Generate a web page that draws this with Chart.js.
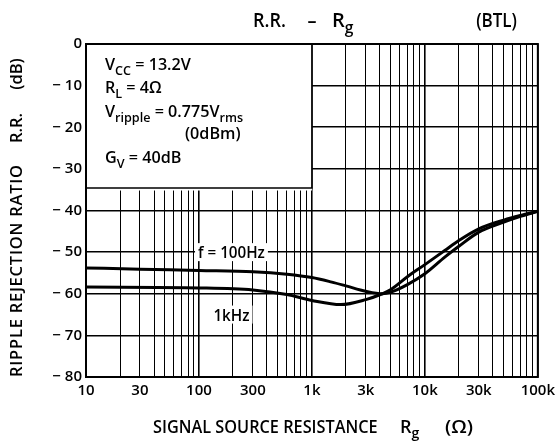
<!DOCTYPE html>
<html>
<head>
<meta charset="utf-8">
<script src="https://cdn.jsdelivr.net/npm/chart.js@4/dist/chart.umd.min.js"></script>
<style>
  html,body{margin:0;padding:0;background:#fff;}
  #wrap{width:560px;height:441px;}
</style>
</head>
<body>
<div id="wrap"><canvas id="c" width="560" height="441"></canvas></div>
<script>
// R.R. - Rg (BTL) 曲線
const rg100 = [10, 30, 100, 300, 600, 1000, 1500, 2000, 3000, 4200, 5000, 7000, 10000, 15000, 20000, 30000, 50000, 70000, 100000];
const rr100 = [-53.8, -54.1, -54.4, -54.7, -55.3, -56.1, -57.2, -58.1, -59.4, -60.0, -59.6, -57.8, -55.2, -51.2, -48.6, -45.2, -42.8, -41.4, -40.2];
const rg1k = [10, 100, 300, 600, 1000, 1800, 3000, 4200, 5000, 7000, 10000, 15000, 20000, 30000, 50000, 70000, 100000];
const rr1k = [-58.4, -58.6, -59.1, -60.2, -61.6, -62.6, -61.4, -60.0, -59.0, -55.9, -53.0, -49.6, -47.2, -44.4, -42.3, -41.2, -40.2];

const xGrid = [];
for (let d = 10; d < 100000; d *= 10) for (let k = 1; k < 10; k++) xGrid.push(d * k);
xGrid.push(100000);
const xLabels = {10:'10', 30:'30', 100:'100', 300:'300', 1000:'1k', 3000:'3k', 10000:'10k', 30000:'30k', 100000:'100k'};
const yLabels = {0:'0', '-10':'− 10', '-20':'− 20', '-30':'− 30', '-40':'− 40', '-50':'− 50', '-60':'− 60', '-70':'− 70', '-80':'− 80'};

const FAM = '"Open Sans", sans-serif';
const W = '600';
const isDecade = v => Math.abs(Math.log10(v) - Math.round(Math.log10(v))) < 1e-9;

// 文字 + 下標（sx: 水平壓縮）
function rich(ctx, parts, x, y, size, align, sx){
  sx = sx || 1;
  const sub = size * 0.78;
  let w = 0;
  parts.forEach(([t, s]) => { ctx.font = `${W} ${s ? sub : size}px ${FAM}`; w += ctx.measureText(t).width; });
  const tw = w * sx;
  const x0 = align === 'center' ? x - tw/2 : align === 'right' ? x - tw : x;
  ctx.save();
  ctx.translate(x0, y); ctx.scale(sx, 1);
  ctx.textAlign = 'left'; ctx.textBaseline = 'alphabetic';
  let cx = 0;
  parts.forEach(([t, s]) => {
    ctx.font = `${W} ${s ? sub : size}px ${FAM}`;
    ctx.fillText(t, cx, s ? size*0.3 : 0);
    cx += ctx.measureText(t).width;
  });
  ctx.restore();
}

// 字距拉開（逐字）
function spaced(ctx, t, cx, y, size, target){
  ctx.font = `${W} ${size}px ${FAM}`;
  const w = ctx.measureText(t).width;
  target = target || w;
  const gap = (target - w) / (t.length - 1);
  let px = cx - target/2;
  ctx.textAlign = 'left';
  for (const ch of t){ ctx.fillText(ch, px, y); px += ctx.measureText(ch).width + gap; }
}

const deco = {
  id: 'deco',
  afterDatasetsDraw(chart){
    const {ctx, chartArea: a, scales: {x, y}} = chart;
    ctx.save();
    ctx.fillStyle = '#000'; ctx.strokeStyle = '#000';

    // 條件框
    const bx = x.getPixelForValue(1000), by = y.getPixelForValue(-34.6);
    ctx.fillStyle = '#fff';
    ctx.fillRect(a.left, a.top, bx - a.left, by - a.top + 2.5);
    ctx.lineWidth = 1.6;
    ctx.beginPath(); ctx.moveTo(a.left, by); ctx.lineTo(bx, by); ctx.lineTo(bx, a.top); ctx.stroke();
    ctx.fillStyle = '#000';
    rich(ctx, [['V'],['CC',1],[' = 13.2V']], 105, 70, 17, 'left', 0.95);
    rich(ctx, [['R'],['L',1],[' = 4Ω']], 105, 93, 17, 'left', 0.95);
    rich(ctx, [['V'],['ripple',1],[' = 0.775V'],['rms',1]], 105, 117, 17, 'left', 0.95);
    rich(ctx, [['(0dBm)']], 185, 139, 17, 'left', 0.95);
    rich(ctx, [['G'],['V',1],[' = 40dB']], 105, 163, 17, 'left', 0.95);

    // 曲線標籤
    [['f = 100Hz', -50], ['1kHz', -65]].forEach(([t, v]) => {
      const px = x.getPixelForValue(194), py = y.getPixelForValue(v);
      ctx.font = `${W} 16px ${FAM}`;
      const w = ctx.measureText(t).width * 0.95;
      ctx.fillStyle = '#fff';
      ctx.fillRect(px - w/2 - 3, py - 9, w + 6, 18);
      ctx.fillStyle = '#000';
      rich(ctx, [[t]], px, py + 6, 16, 'center', 0.95);
    });

    // 外框
    ctx.lineWidth = 2;
    ctx.strokeRect(a.left, a.top, a.right - a.left, a.bottom - a.top);

    // 標題
    ctx.fillStyle = '#000';
    rich(ctx, [['R.R.']], 253, 27, 20, 'left', 0.9);
    rich(ctx, [['–']], 312, 27, 20, 'center', 0.9);
    rich(ctx, [['R'],['g',1]], 332, 27, 20, 'left', 1);
    rich(ctx, [['(BTL)']], 517, 27, 20, 'right', 0.85);

    rich(ctx, [['SIGNAL SOURCE RESISTANCE']], 153, 433, 17.5, 'left', 0.93);
    rich(ctx, [['R'],['g',1]], 400, 433, 18, 'left', 1);
    rich(ctx, [['(Ω)']], 445, 433, 18, 'left', 1.1);

    ctx.translate(22, 0);
    ctx.rotate(-Math.PI/2);
    ctx.textBaseline = 'alphabetic';
    spaced(ctx, 'RIPPLE REJECTION RATIO', -271, 0, 16.5, 212);
    spaced(ctx, 'R.R.', -128, 0, 16.5);
    spaced(ctx, '(dB)', -74, 0, 16.5);
    ctx.restore();
  }
};

const mk = (xs, ys) => xs.map((v, i) => ({x: v, y: ys[i]}));

new Chart(document.getElementById('c'), {
  type: 'line',
  data: {
    datasets: [
      {data: mk(rg100, rr100), borderColor:'#000', borderWidth:3, pointRadius:0, cubicInterpolationMode:'monotone'},
      {data: mk(rg1k, rr1k), borderColor:'#000', borderWidth:3, pointRadius:0, cubicInterpolationMode:'monotone'},
    ]
  },
  options: {
    responsive: false, animation: false, devicePixelRatio: 1,
    layout: {padding: {top: 44, right: 21, left: 0, bottom: 34}},
    plugins: {legend: {display: false}, tooltip: {enabled: false}},
    scales: {
      x: {
        type: 'logarithmic', min: 10, max: 100000,
        afterBuildTicks: s => { s.ticks = xGrid.map(v => ({value: v})); },
        afterFit: s => { s.height = 30; },
        ticks: {autoSkip: false, maxRotation: 0, padding: 5, color: '#000',
          font: {family: FAM, size: 15, weight: W},
          callback: v => xLabels[v] || ''},
        grid: {color: '#000', drawTicks: false, lineWidth: c => isDecade(c.tick.value) ? 1.6 : 1},
        border: {display: false}
      },
      y: {
        min: -80, max: 0,
        afterBuildTicks: s => { const t = []; for (let v = -80; v <= 0; v += 5) t.push({value: v}); s.ticks = t; },
        afterFit: s => { s.width = 86; },
        ticks: {padding: 4, color: '#000', font: {family: FAM, size: 15, weight: W},
          callback: v => yLabels[v] || ''},
        grid: {color: '#000', drawTicks: false, lineWidth: c => c.tick.value % 10 === 0 ? 1.6 : 1},
        border: {display: false}
      }
    }
  },
  plugins: [deco]
});
</script>
</body>
</html>
